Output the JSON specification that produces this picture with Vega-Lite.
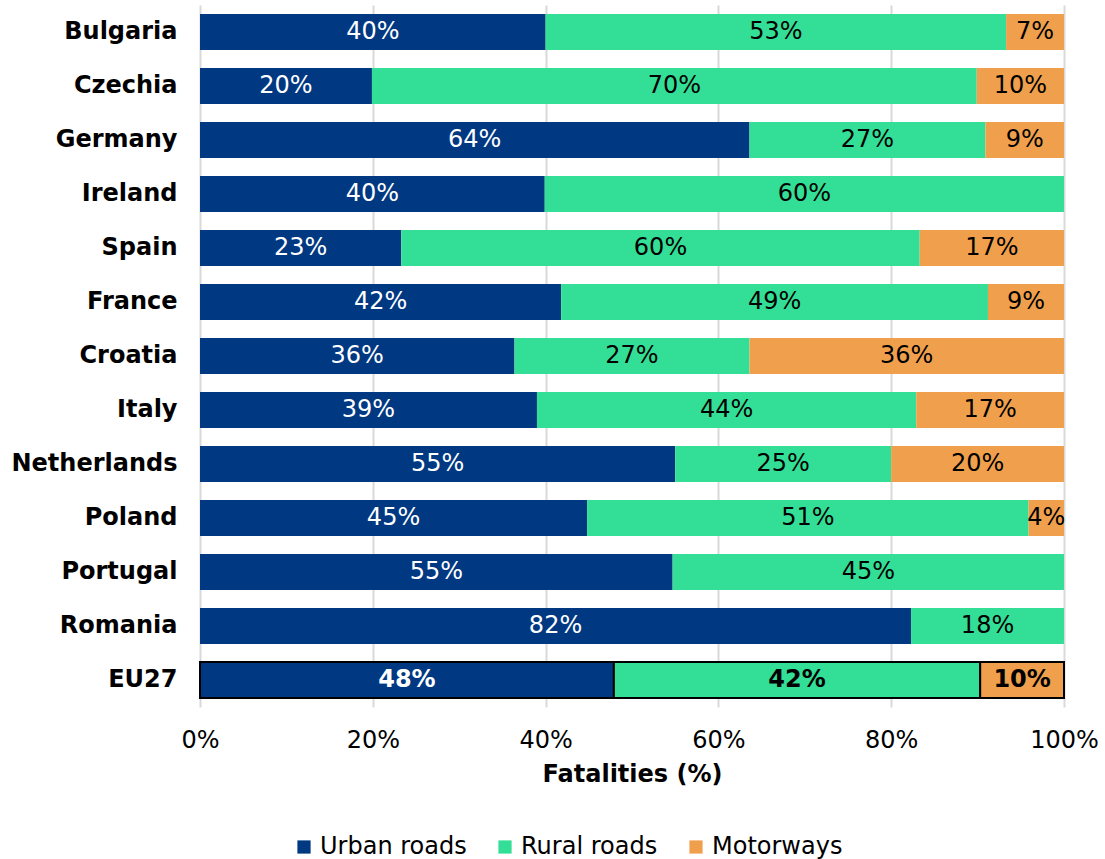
{
  "$schema": "https://vega.github.io/schema/vega-lite/v6.json",
  "width": 864,
  "height": 702,
  "autosize": {"type": "none"},
  "padding": {"left": 200, "top": 5, "right": 41, "bottom": 152},
  "background": "white",
  "config": {
    "font": "DejaVu Sans",
    "view": {"stroke": null}
  },
  "data": {
    "values": [
      {"country": "Bulgaria", "type": "Urban roads", "o": 1, "value": 0.400},
      {"country": "Bulgaria", "type": "Rural roads", "o": 2, "value": 0.533},
      {"country": "Bulgaria", "type": "Motorways", "o": 3, "value": 0.067},
      {"country": "Czechia", "type": "Urban roads", "o": 1, "value": 0.199},
      {"country": "Czechia", "type": "Rural roads", "o": 2, "value": 0.700},
      {"country": "Czechia", "type": "Motorways", "o": 3, "value": 0.101},
      {"country": "Germany", "type": "Urban roads", "o": 1, "value": 0.636},
      {"country": "Germany", "type": "Rural roads", "o": 2, "value": 0.273},
      {"country": "Germany", "type": "Motorways", "o": 3, "value": 0.091},
      {"country": "Ireland", "type": "Urban roads", "o": 1, "value": 0.399},
      {"country": "Ireland", "type": "Rural roads", "o": 2, "value": 0.601},
      {"country": "Spain", "type": "Urban roads", "o": 1, "value": 0.233},
      {"country": "Spain", "type": "Rural roads", "o": 2, "value": 0.600},
      {"country": "Spain", "type": "Motorways", "o": 3, "value": 0.167},
      {"country": "France", "type": "Urban roads", "o": 1, "value": 0.418},
      {"country": "France", "type": "Rural roads", "o": 2, "value": 0.494},
      {"country": "France", "type": "Motorways", "o": 3, "value": 0.088},
      {"country": "Croatia", "type": "Urban roads", "o": 1, "value": 0.364},
      {"country": "Croatia", "type": "Rural roads", "o": 2, "value": 0.272},
      {"country": "Croatia", "type": "Motorways", "o": 3, "value": 0.364},
      {"country": "Italy", "type": "Urban roads", "o": 1, "value": 0.390},
      {"country": "Italy", "type": "Rural roads", "o": 2, "value": 0.439},
      {"country": "Italy", "type": "Motorways", "o": 3, "value": 0.171},
      {"country": "Netherlands", "type": "Urban roads", "o": 1, "value": 0.550},
      {"country": "Netherlands", "type": "Rural roads", "o": 2, "value": 0.250},
      {"country": "Netherlands", "type": "Motorways", "o": 3, "value": 0.200},
      {"country": "Poland", "type": "Urban roads", "o": 1, "value": 0.448},
      {"country": "Poland", "type": "Rural roads", "o": 2, "value": 0.511},
      {"country": "Poland", "type": "Motorways", "o": 3, "value": 0.041},
      {"country": "Portugal", "type": "Urban roads", "o": 1, "value": 0.547},
      {"country": "Portugal", "type": "Rural roads", "o": 2, "value": 0.453},
      {"country": "Romania", "type": "Urban roads", "o": 1, "value": 0.823},
      {"country": "Romania", "type": "Rural roads", "o": 2, "value": 0.177},
      {"country": "EU27", "type": "Urban roads", "o": 1, "value": 0.479},
      {"country": "EU27", "type": "Rural roads", "o": 2, "value": 0.424},
      {"country": "EU27", "type": "Motorways", "o": 3, "value": 0.097}
    ]
  },
  "transform": [
    {"stack": "value", "groupby": ["country"], "sort": [{"field": "o", "order": "ascending"}], "as": ["v0", "v1"]},
    {"calculate": "(datum.v0 + datum.v1) / 2", "as": "mid"}
  ],
  "encoding": {
    "y": {
      "field": "country",
      "type": "nominal",
      "sort": ["Bulgaria", "Czechia", "Germany", "Ireland", "Spain", "France", "Croatia", "Italy", "Netherlands", "Poland", "Portugal", "Romania", "EU27"],
      "scale": {"paddingInner": 0.333, "paddingOuter": 0.167},
      "axis": {
        "title": null,
        "domain": false,
        "ticks": false,
        "labelFontSize": 24,
        "labelFontWeight": "bold",
        "labelColor": "black",
        "labelPadding": 23
      }
    }
  },
  "layer": [
    {
      "mark": {"type": "bar", "stroke": "black"},
      "encoding": {
        "x": {
          "field": "v0",
          "type": "quantitative",
          "scale": {"domain": [0, 1]},
          "axis": {
            "values": [0, 0.2, 0.4, 0.6, 0.8, 1],
            "format": ".0%",
            "grid": true,
            "gridColor": "#d9d9d9",
            "gridWidth": 2,
            "domain": false,
            "ticks": false,
            "labelFlush": false,
            "labelFontSize": 24,
            "labelColor": "black",
            "labelPadding": 21,
            "title": "Fatalities (%)",
            "titleFontSize": 24,
            "titleFontWeight": "bold",
            "titleColor": "black",
            "titlePadding": 10
          }
        },
        "x2": {"field": "v1"},
        "color": {
          "field": "type",
          "type": "nominal",
          "sort": ["Urban roads", "Rural roads", "Motorways"],
          "scale": {"domain": ["Urban roads", "Rural roads", "Motorways"], "range": ["#003882", "#33df96", "#f0a04c"]},
          "legend": {
            "title": null,
            "orient": "none",
            "legendX": 92,
            "legendY": 830,
            "direction": "horizontal",
            "symbolType": "square",
            "symbolSize": 175,
            "symbolStrokeWidth": 0,
            "labelFontSize": 24,
            "labelColor": "black",
            "labelOffset": 4,
            "columnPadding": 26
          }
        },
        "strokeWidth": {"condition": {"test": "datum.country === 'EU27'", "value": 2}, "value": 0}
      }
    },
    {
      "transform": [{"filter": "datum.country !== 'EU27'"}],
      "mark": {"type": "text", "fontSize": 24, "baseline": "middle", "align": "center"},
      "encoding": {
        "x": {"field": "mid", "type": "quantitative"},
        "text": {"field": "value", "type": "quantitative", "format": ".0%"},
        "color": {"condition": {"test": "datum.type === 'Urban roads'", "value": "white"}, "value": "black"}
      }
    },
    {
      "transform": [{"filter": "datum.country === 'EU27'"}],
      "mark": {"type": "text", "fontSize": 24, "fontWeight": "bold", "baseline": "middle", "align": "center"},
      "encoding": {
        "x": {"field": "mid", "type": "quantitative"},
        "text": {"field": "value", "type": "quantitative", "format": ".0%"},
        "color": {"condition": {"test": "datum.type === 'Urban roads'", "value": "white"}, "value": "black"}
      }
    }
  ]
}
